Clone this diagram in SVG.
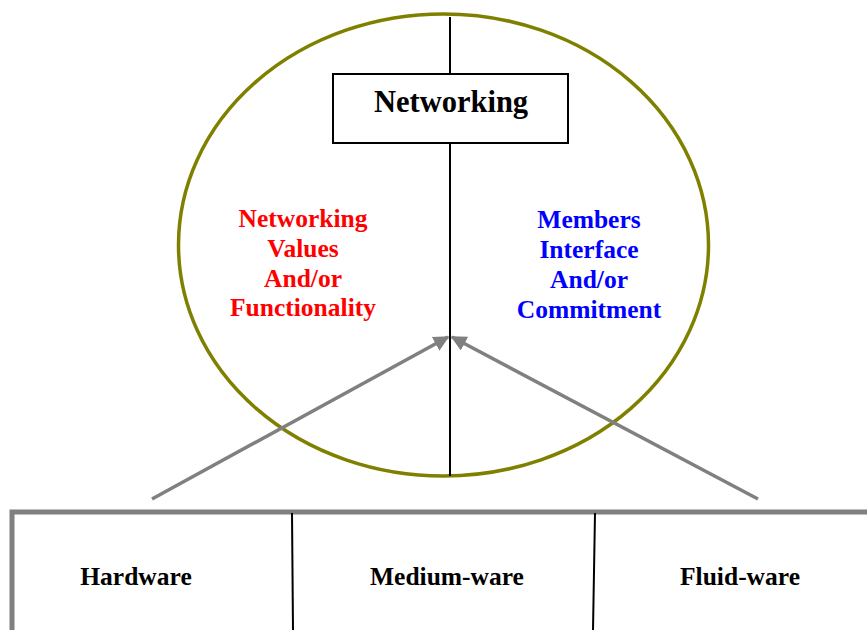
<svg xmlns="http://www.w3.org/2000/svg" width="867" height="630" viewBox="0 0 867 630">
<defs>
<style>
text{font-family:"Liberation Serif","Times New Roman",serif;font-weight:bold;text-anchor:middle}
.lbl{font-size:25.5px}
.red{fill:#ff0000}
.blue{fill:#0000ff}
.arrow{stroke:#808080;stroke-width:3.5;fill:none}
.thin{stroke:#000;stroke-width:2;fill:none}
</style>
<marker id="ah" viewBox="0 0 10 10" refX="9" refY="5" markerWidth="4.5" markerHeight="4.5" orient="auto" markerUnits="strokeWidth">
<path d="M0,0 L10,5 L0,10 z" fill="#808080"/>
</marker>
</defs>
<rect width="867" height="630" fill="#fff"/>
<g id="circle">
<ellipse cx="443.5" cy="245" rx="265" ry="231" fill="none" stroke="#808000" stroke-width="3.5"/>
</g>
<g id="connectors">
<line class="thin" x1="450" y1="17" x2="450" y2="74"/>
<line class="thin" x1="450" y1="143" x2="450" y2="476"/>
<line class="arrow" x1="152" y1="499" x2="448" y2="337" marker-end="url(#ah)"/>
<line class="arrow" x1="758" y1="499" x2="452" y2="337" marker-end="url(#ah)"/>
</g>
<g id="networking">
<rect x="333" y="74" width="235" height="69" fill="#fff" stroke="#000" stroke-width="2"/>
<text x="451" y="112" font-size="30.5">Networking</text>
</g>
<g id="values">
<text class="lbl red" x="303" y="227">Networking</text>
<text class="lbl red" x="303" y="257">Values</text>
<text class="lbl red" x="303" y="287">And/or</text>
<text class="lbl red" x="303" y="316">Functionality</text>
</g>
<g id="members">
<text class="lbl blue" x="589" y="228">Members</text>
<text class="lbl blue" x="589" y="258">Interface</text>
<text class="lbl blue" x="589" y="288">And/or</text>
<text class="lbl blue" x="589" y="318">Commitment</text>
</g>
<g id="base">
<rect x="12" y="512" width="870" height="130" fill="#fff" stroke="#808080" stroke-width="5"/>
<line x1="292" y1="513" x2="293" y2="630" stroke="#000" stroke-width="2"/>
<line x1="595" y1="513" x2="593" y2="630" stroke="#000" stroke-width="2"/>
</g>
<g id="hardware"><text class="lbl" x="136" y="585">Hardware</text></g>
<g id="mediumware"><text class="lbl" x="447" y="585">Medium-ware</text></g>
<g id="fluidware"><text class="lbl" x="740" y="585">Fluid-ware</text></g>
</svg>
